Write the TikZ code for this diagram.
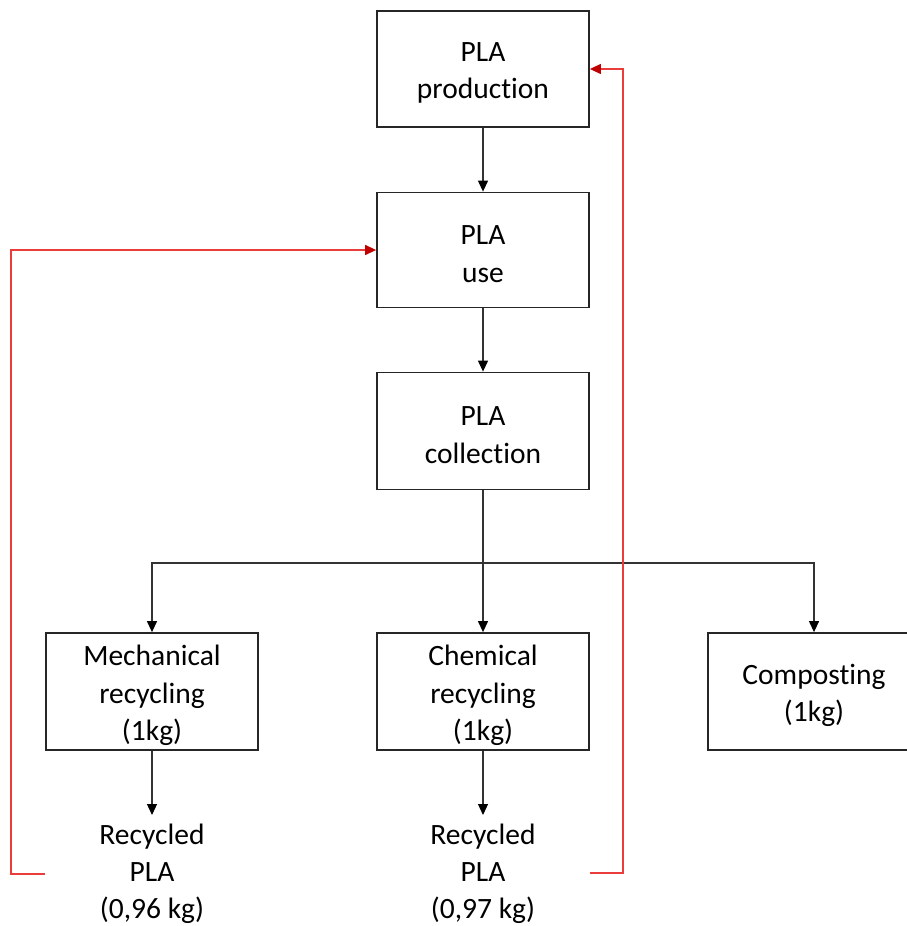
\documentclass[tikz,border=0pt]{standalone}
\usepackage{fontspec}
\setmainfont{Carlito}[Ligatures=NoCommon]
\usetikzlibrary{arrows.meta,calc}
\definecolor{redline}{RGB}{235,60,60}
\definecolor{redtip}{RGB}{192,0,0}
\tikzset{
  txt/.style={align=center, inner sep=0pt, font=\fontsize{29.5}{37.5}\selectfont},
  box/.style={draw=black!85, line width=1.8pt, minimum width=212pt, minimum height=116pt,
    inner sep=0pt, label={[txt, yshift=-4pt]center:#1}},
  lbl/.style={align=center, inner sep=0pt, font=\fontsize{29.5}{37}\selectfont},
  conn/.style={draw=black!80, line width=1.2pt, -{Triangle[length=11pt,width=10pt,fill=black,color=black]}},
  redconn/.style={draw=redline, line width=1.3pt, -{Triangle[length=11pt,width=10pt,fill=redtip,color=redtip]}},
}
\begin{document}
\begin{tikzpicture}[x=1pt,y=-1pt]
\useasboundingbox (0,0) rectangle (906,926);
\node[box={PLA\\production}] (prod) at (483,69) {};
\node[box={PLA\\use}, minimum height=115pt] (use) at (483,250) {};
\node[box={PLA\\collection}, minimum height=117pt] (coll) at (483,431) {};
\node[box={Mechanical\\recycling\\(1kg)}, minimum height=117pt] (mech) at (152,691.5) {};
\node[box={Chemical\\recycling\\(1kg)}, minimum height=117pt] (chem) at (483,691.5) {};
\node[box={Composting\\(1kg)}, minimum height=117pt] (comp) at (814,691.5) {};
\node[lbl] (rec1) at (152,874) {Recycled\\PLA\\(0,96 kg)};
\node[lbl] (rec2) at (483,874) {Recycled\\PLA\\(0,97 kg)};
\coordinate (split) at (483,563);
\coordinate (r1s) at (mech.west |- 0,874);
\coordinate (r2s) at (chem.east |- 0,873);
\coordinate (r1n) at (152,815);
\coordinate (r2n) at (483,815);
\draw[conn] (prod) -- (use);
\draw[conn] (use) -- (coll);
\draw[draw=black!80, line width=1.2pt] (coll) -- (split);
\draw[conn] (split) -| (mech);
\draw[conn] (split) -| (comp);
\draw[conn] (split) -- (chem);
\draw[conn] (mech) -- (r1n);
\draw[conn] (chem) -- (r2n);
\draw[redconn] (r1s) -- ++(-34,0) |- (use.west);
\draw[redconn] (r2s) -- ++(33,0) |- (prod.east);
\end{tikzpicture}
\end{document}
